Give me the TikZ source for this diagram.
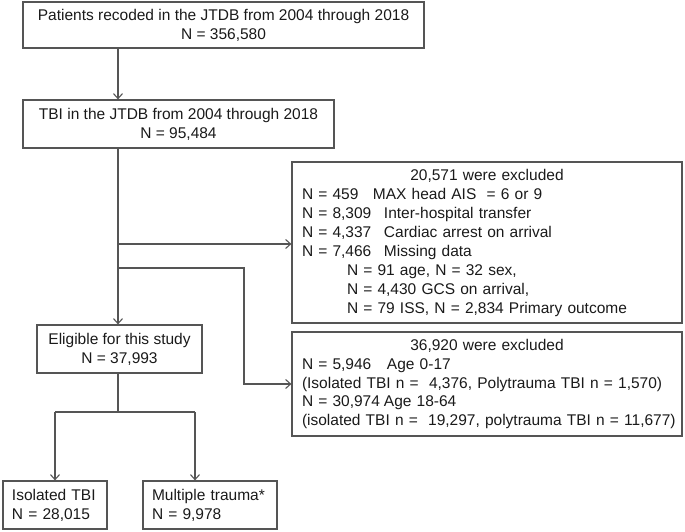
\documentclass[tikz,border=0pt]{standalone}
\usepackage{fontspec}
\setmainfont{Liberation Sans}
\usetikzlibrary{arrows.meta}
\definecolor{linegray}{HTML}{555555}
\definecolor{txt}{HTML}{1A1A1A}
\begin{document}
\begin{tikzpicture}[x=1pt,y=1pt,
  box/.style={draw=linegray, line width=1.2pt, inner sep=0pt, text=txt,
    font=\fontsize{15.5}{18.8}\selectfont},
  lbox/.style={box, align=left, inner xsep=9pt},
  conn/.style={draw=linegray, line width=1.1pt},
  arr/.style={conn, -{Straight Barb[length=5pt,width=9pt]}}]
\useasboundingbox (0,0) rectangle (685,531);
\node[box, align=center, minimum width=401, minimum height=46] (b1) at (223.5,506)
  {Patients recoded in the JTDB from 2004 through 2018\\N = 356,580};
\node[box, align=center, minimum width=311, minimum height=48] (b2) at (178.5,407)
  {TBI in the JTDB from 2004 through 2018\\N = 95,484};
\node[lbox, inner xsep=10pt, text width=370pt, minimum height=161,
  font=\fontsize{15.5}{19}\selectfont] (b3) at (487,288.5)
  {\makebox[\hsize]{20,571 were excluded}\\
   \makebox[71pt][l]{N = 459}MAX head AIS\ \ = 6 or 9\\
   \makebox[82pt][l]{N = 8,309}Inter-hospital transfer\\
   \makebox[82pt][l]{N = 4,337}Cardiac arrest on arrival\\
   \makebox[82pt][l]{N = 7,466}Missing data\\
   \hspace*{45pt}N = 91 age, N = 32 sex,\\
   \hspace*{45pt}N = 4,430 GCS on arrival,\\
   \hspace*{45pt}N = 79 ISS, N = 2,834 Primary outcome};
\node[lbox, inner xsep=10pt, text width=370pt, minimum height=104,
  font=\fontsize{15.5}{18.6}\selectfont] (b4) at (487,147)
  {\makebox[\hsize]{36,920 were excluded}\\
   \makebox[85pt][l]{N = 5,946}Age 0-17\\
   \mbox{(Isolated TBI n =\ \ 4,376, Polytrauma TBI n = 1,570)}\\
   \makebox[82pt][l]{N = 30,974}Age 18-64\\
   \mbox{(isolated TBI n =\ \ 19,297, polytrauma TBI n = 11,677)}};
\node[box, align=center, minimum width=165, minimum height=48] (el) at (119.5,182)
  {Eligible for this study\\N = 37,993};
\node[lbox, text width=86pt, minimum height=48] (iso) at (55,26)
  {Isolated TBI\\N = 28,015};
\node[lbox, text width=116pt, minimum height=48] (mt) at (210,26)
  {Multiple trauma*\\N = 9,978};
% connector coordinates
\coordinate (cx) at (118,0);
\coordinate (ya) at (0,287);
\coordinate (yb) at (0,263);
\coordinate (bx) at (244,0);
\coordinate (yc) at (0,119);
\coordinate (lx) at (55,0);
\coordinate (rx) at (195,0);
\draw[arr] (b1.south -| cx) -- (b2.north -| cx);
\draw[arr] (b2.south -| cx) -- (el.north -| cx);
\draw[arr] (cx |- ya) -- (b3.west |- ya);
\draw[arr] (cx |- yb) -- (bx |- yb) -- (bx |- b4.west) -- (b4.west);
\draw[conn] (el.south -| cx) -- (cx |- yc);
\draw[conn] (lx |- yc) -- (rx |- yc);
\draw[arr] (lx |- yc) -- (iso.north);
\draw[arr] (rx |- yc) -- (mt.north -| rx);
\end{tikzpicture}
\end{document}
